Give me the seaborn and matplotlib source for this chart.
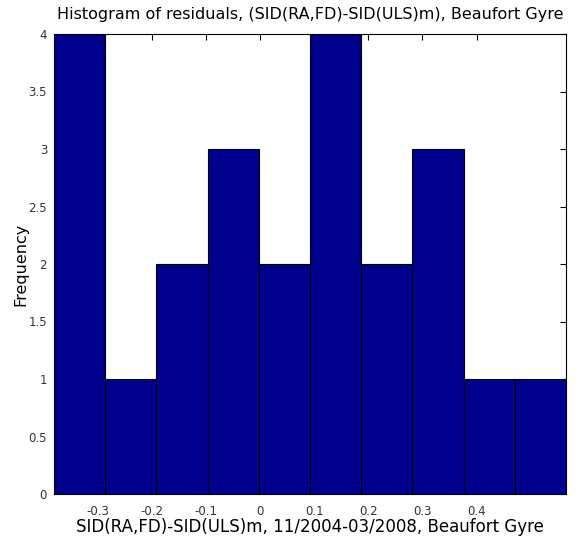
import matplotlib
matplotlib.use("Agg")
import matplotlib.pyplot as plt
import seaborn as sns
import numpy as np

bin_edges = [-0.38, -0.2855, -0.191, -0.0965, -0.002, 0.0925, 0.187, 0.2815, 0.376, 0.4705, 0.565]
counts = [4, 1, 2, 3, 2, 4, 2, 3, 1, 1]
xticks = [-0.3, -0.2, -0.1, 0, 0.1, 0.2, 0.3, 0.4]
xtick_labels = ["-0.3", "-0.2", "-0.1", "0", "0.1", "0.2", "0.3", "0.4"]
yticks = [0, 0.5, 1, 1.5, 2, 2.5, 3, 3.5, 4]
ytick_labels = ["0", "0.5", "1", "1.5", "2", "2.5", "3", "3.5", "4"]

centers = [(bin_edges[i] + bin_edges[i + 1]) / 2 for i in range(len(counts))]

sns.set_style("white")
plt.rcParams['font.family'] = ['DejaVu Sans']
plt.rcParams['text.color'] = 'black'
plt.rcParams['axes.labelcolor'] = 'black'

fig = plt.figure(figsize=(5.77, 5.44), dpi=100)
ax = fig.add_axes([54 / 577, 50 / 544, 512 / 577, 460 / 544])

sns.histplot(x=centers, weights=counts, bins=bin_edges, ax=ax,
             color="#00008F", edgecolor="black", linewidth=0.8, alpha=1)

ax.set_xlim(bin_edges[0], bin_edges[-1])
ax.set_ylim(0, 4)
ax.set_xticks(xticks)
ax.set_xticklabels(xtick_labels)
ax.set_yticks(yticks)
ax.set_yticklabels(ytick_labels)
ax.tick_params(direction="in", top=True, right=True, length=4, width=0.8,
               labelsize=8.5, colors="black", labelcolor="#333333")
ax.tick_params(axis="x", pad=8)
ax.tick_params(axis="y", pad=5)
for s in ax.spines.values():
    s.set_visible(True)
    s.set_color("black")
    s.set_linewidth(0.8)

ax.set_title("Histogram of residuals, (SID(RA,FD)-SID(ULS)m), Beaufort Gyre",
             fontsize=11.5, pad=11, color="black")
ax.set_xlabel("SID(RA,FD)-SID(ULS)m, 11/2004-03/2008, Beaufort Gyre", fontsize=12, labelpad=0)
ax.set_ylabel("Frequency", fontsize=11.5, labelpad=0)

fig.savefig("out.png", dpi=100)
